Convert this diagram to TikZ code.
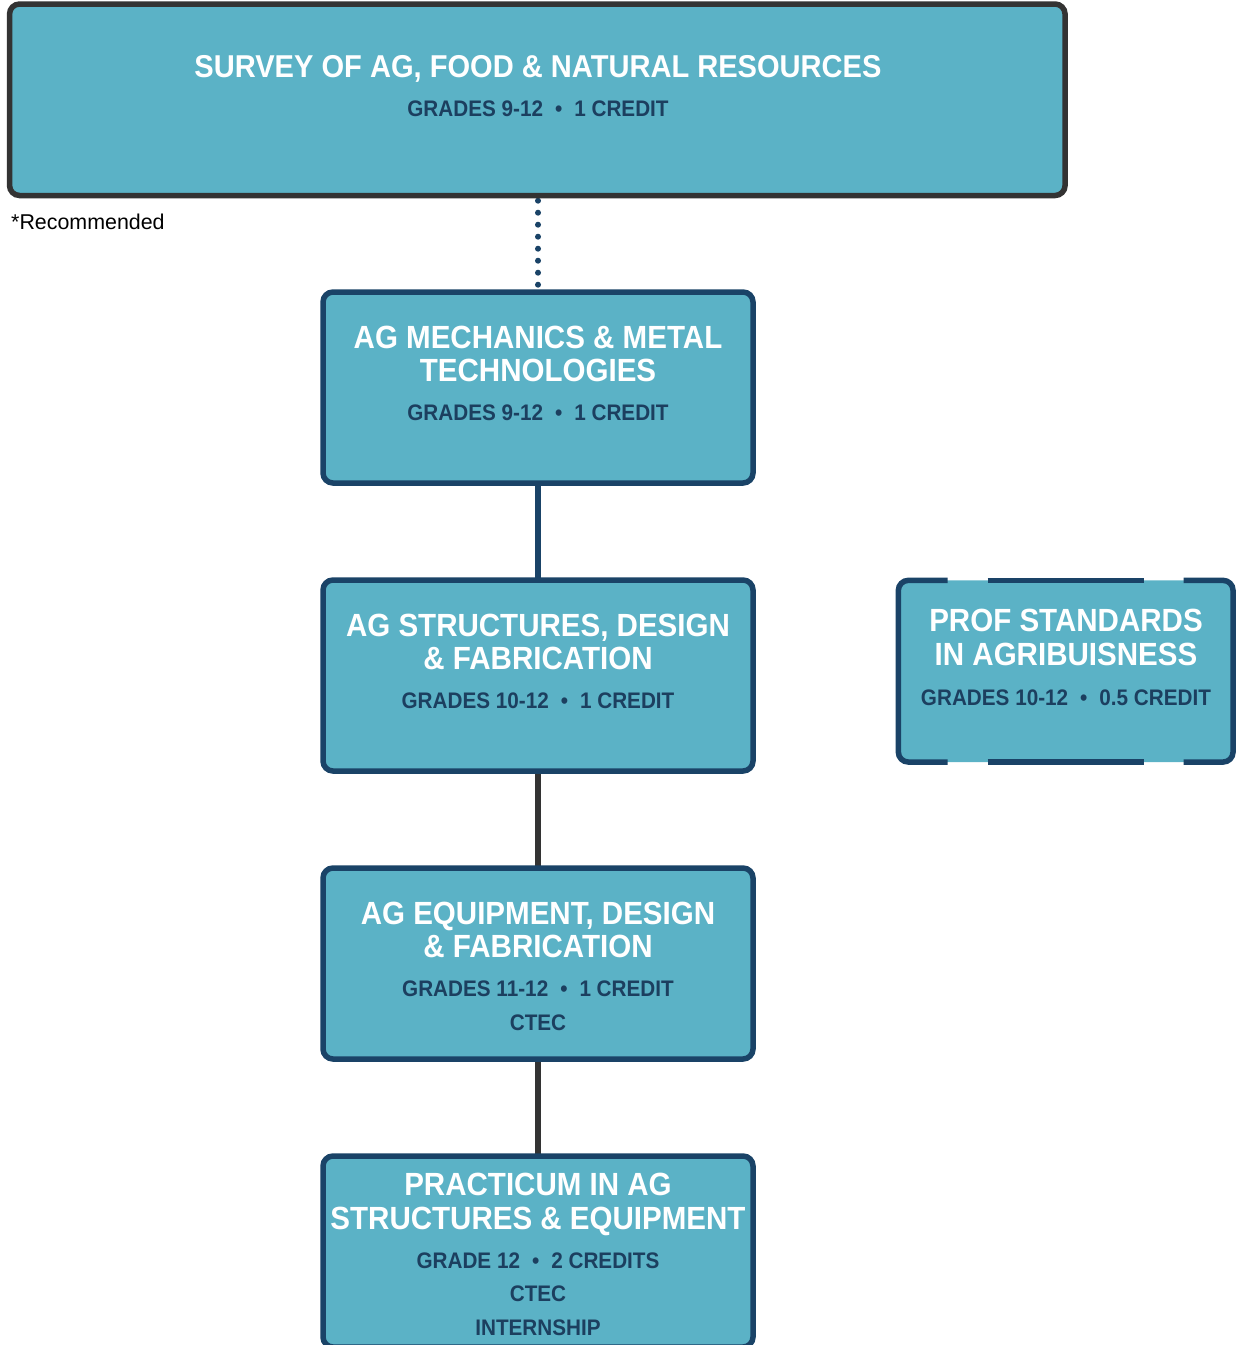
\documentclass[tikz,border=0pt]{standalone}
\usepackage{fontspec}
\setmainfont{Liberation Sans}
\newfontfamily\boxfont{Liberation Sans}[FakeStretch=0.92]
\usetikzlibrary{backgrounds}
\definecolor{boxfill}{HTML}{5BB2C6}
\definecolor{navy}{HTML}{1A4367}
\definecolor{lineGray}{HTML}{333333}
\definecolor{subnavy}{HTML}{1C3F5F}
\newcommand{\bulsep}{\hspace{12pt}•\hspace{12pt}}
\begin{document}
\begin{tikzpicture}[x=1pt,y=-1pt,
  box/.style={rectangle, rounded corners=10pt, fill=boxfill, draw=navy, line width=5.5pt,
    outer sep=0pt, inner sep=0pt, minimum width=430pt, minimum height=191pt},
  ttl/.style={anchor=base, text=white, inner sep=0pt, font=\boxfont\bfseries\fontsize{32.1}{34}\selectfont},
  sub/.style={anchor=base, text=subnavy, inner sep=0pt, font=\boxfont\bfseries\fontsize{22.5}{24}\selectfont},
  conn/.style={line width=6.5pt},
  dashb/.style={draw=navy, line width=5.5pt, rounded corners=10pt}
]
\useasboundingbox (0,0) rectangle (1240,1345);

% boxes
\node[box, draw=lineGray, minimum width=1055.5pt, minimum height=191.5pt] (survey) at (537.3,99.75) {};
\node[box] (mech) at (538,387.5) {};
\node[box] (struct) at (538,675.5) {};
\node[box] (equip) at (538,963.5) {};
\node[box] (prac) at (538,1251.5) {};
\node[box, draw=none, minimum width=334.7pt, minimum height=181.7pt] (prof) at (1065.7,671.2) {};

% dashed border of prof
\draw[dashb] ([xshift=-78pt]prof.north) -- ([xshift=78pt]prof.north);
\draw[dashb] ([xshift=-78pt]prof.south) -- ([xshift=78pt]prof.south);
\draw[dashb] ([xshift=118pt]prof.north) -| (prof.south east) -- ([xshift=118pt]prof.south);
\draw[dashb] ([xshift=-118pt]prof.north) -| (prof.south west) -- ([xshift=-118pt]prof.south);

% connectors
\begin{scope}[on background layer]
\draw[navy, line width=6pt, line cap=round, dash pattern=on 0pt off 12pt, dash phase=6.8pt]
  (mech.north |- survey.south) -- (mech.north);
\draw[navy, conn] (mech.south) -- (struct.north);
\draw[lineGray, conn] (struct.south) -- (equip.north);
\draw[lineGray, conn] (equip.south) -- (prac.north);
\end{scope}

% texts
\node[ttl, font=\boxfont\bfseries\fontsize{31.6}{34}\selectfont] (surveyT) at (538,77.3) {SURVEY OF AG, FOOD \& NATURAL RESOURCES};
\node[sub] (surveyS) at (538,116) {GRADES 9-12\bulsep 1 CREDIT};
\node[anchor=base west, inner sep=0pt, font=\fontsize{21.4}{24}\selectfont] (rec) at (11,229.3) {*Recommended};

\node[ttl] (mechT1) at (538,348.3) {AG MECHANICS \& METAL};
\node[ttl] (mechT2) at (538,381.7) {TECHNOLOGIES};
\node[sub] (mechS) at (538,420.7) {GRADES 9-12\bulsep 1 CREDIT};

\node[ttl] (structT1) at (538,636.3) {AG STRUCTURES, DESIGN};
\node[ttl] (structT2) at (538,669.7) {\& FABRICATION};
\node[sub] (structS) at (538,708.7) {GRADES 10-12\bulsep 1 CREDIT};

\node[ttl] (equipT1) at (538,924.3) {AG EQUIPMENT, DESIGN};
\node[ttl] (equipT2) at (538,957.7) {\& FABRICATION};
\node[sub] (equipS) at (538,996.7) {GRADES 11-12\bulsep 1 CREDIT};
\node[sub] (equipC) at (538,1030.7) {CTEC};

\node[ttl] (pracT1) at (538,1195) {PRACTICUM IN AG};
\node[ttl] (pracT2) at (538,1229.3) {STRUCTURES \& EQUIPMENT};
\node[sub] (pracS) at (538,1268.3) {GRADE 12\bulsep 2 CREDITS};
\node[sub] (pracC) at (538,1301.7) {CTEC};
\node[sub] (pracI) at (538,1335) {INTERNSHIP};

\node[ttl] (profT1) at (1066,631.7) {PROF STANDARDS};
\node[ttl] (profT2) at (1066,665) {IN AGRIBUISNESS};
\node[sub] (profS) at (1066,705) {GRADES 10-12\bulsep 0.5 CREDIT};
\end{tikzpicture}
\end{document}
